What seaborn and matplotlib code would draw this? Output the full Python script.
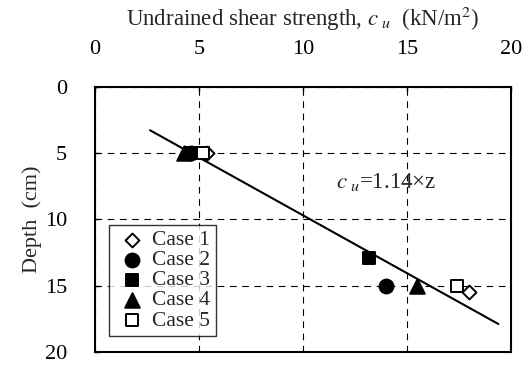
import matplotlib
matplotlib.use("Agg")
import matplotlib.pyplot as plt
import seaborn as sns
import pandas as pd

# Data
cases = ["Case 1", "Case 2", "Case 3", "Case 4", "Case 5"]
case1_cu = [5.4, 18.0]
case1_z = [5.0, 15.5]
case2_cu = [4.6, 14.0]
case2_z = [5.0, 15.0]
case3_cu = [4.6, 13.2]
case3_z = [5.0, 12.9]
case4_cu = [4.3, 15.5]
case4_z = [5.0, 15.0]
case5_cu = [5.2, 17.4]
case5_z = [5.0, 15.0]
fit_cu = [2.65, 19.4]
fit_z = [3.3, 17.9]
x_ticks = [0, 5, 10, 15, 20]
y_ticks = [0, 5, 10, 15, 20]

sns.set_theme(style="white")
plt.rcParams["font.family"] = ["Liberation Serif", "DejaVu Serif"]
plt.rcParams["mathtext.fontset"] = "stix"

rows = []
for name, cu, z in zip(cases,
                       [case1_cu, case2_cu, case3_cu, case4_cu, case5_cu],
                       [case1_z, case2_z, case3_z, case4_z, case5_z]):
    for a, b in zip(cu, z):
        rows.append({"case": name, "cu": a, "z": b})
df = pd.DataFrame(rows)

styles = {
    "Case 1": dict(marker="D", facecolor="white", s=50),
    "Case 2": dict(marker="o", facecolor="black", s=100),
    "Case 3": dict(marker="s", facecolor="black", s=80),
    "Case 4": dict(marker="^", facecolor="black", s=110),
    "Case 5": dict(marker="s", facecolor="white", s=70),
}

fig = plt.figure(figsize=(5.25, 3.65), dpi=100)
ax = fig.add_axes([0.181, 0.036, 0.792, 0.727])

fit = pd.DataFrame({"cu": fit_cu, "z": fit_z})
sns.lineplot(data=fit, x="cu", y="z", ax=ax, color="black", lw=1.5,
             sort=False, estimator=None, zorder=2)

for name in cases:
    st = styles[name]
    sns.scatterplot(data=df[df["case"] == name], x="cu", y="z", ax=ax,
                    marker=st["marker"], s=st["s"], color=st["facecolor"],
                    edgecolor="black", linewidth=1.4, label=name, zorder=3)

ax.set_xlim(0, 20)
ax.set_ylim(20, 0)
ax.set_xticks(x_ticks)
ax.set_yticks(y_ticks)
ax.xaxis.tick_top()
ax.xaxis.set_label_position("top")
ax.tick_params(axis="both", direction="in", length=3, width=1, labelsize=16,
               colors="black", top=True, left=True, bottom=False, right=False)
ax.tick_params(axis="x", pad=20)
ax.tick_params(axis="y", pad=20)
ax.set_xlabel(r"Undrained shear strength, $c_{\ u}$  (kN/m$^2$)", fontsize=16.5, labelpad=10)
ax.set_ylabel("Depth  (cm)", fontsize=16, labelpad=2)

ax.grid(True, color="black", linestyle=(0, (6, 5)), linewidth=0.8)
for sp in ax.spines.values():
    sp.set_color("black")
    sp.set_linewidth(1.5)

ax.text(11.6, 7.2, r"$c_{\ u}$=1.14×z", fontsize=16.5, va="center", ha="left")

leg = ax.legend(loc="lower left", bbox_to_anchor=(0.034, 0.06), frameon=True,
                fancybox=False, edgecolor="black", fontsize=15.5,
                handletextpad=0.15, labelspacing=0.0, borderpad=0.25,
                handlelength=1.6, borderaxespad=0)
leg.get_frame().set_linewidth(1.0)

fig.savefig("out.png", dpi=100)
